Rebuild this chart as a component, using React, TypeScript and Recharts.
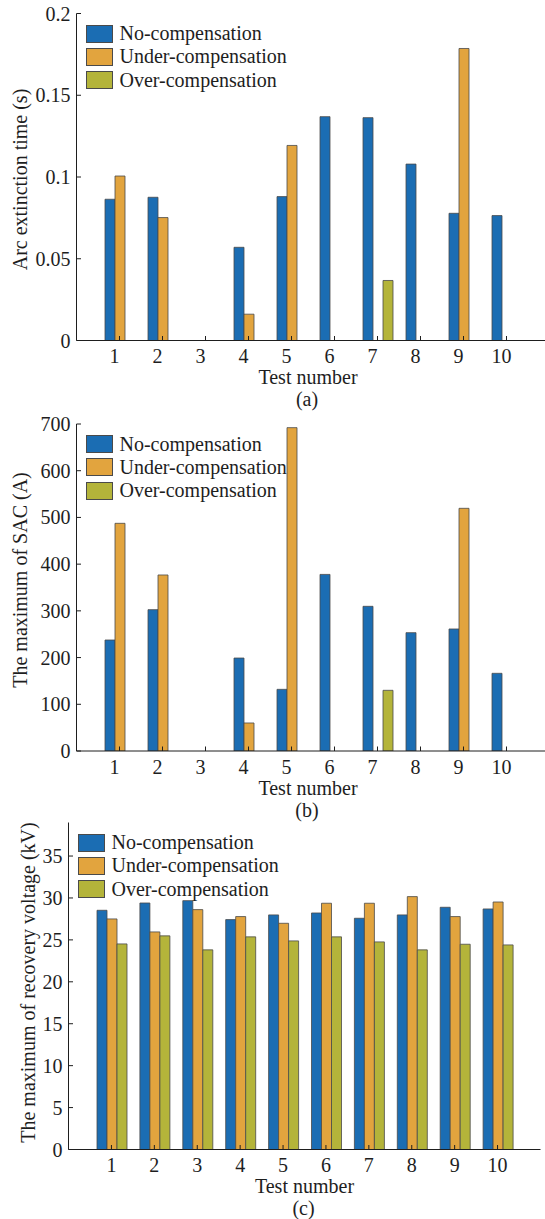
import React from "react";
import { BarChart, Bar, XAxis, YAxis, Label } from "recharts";

// test numbers on the x axis
const tests = ["1", "2", "3", "4", "5", "6", "7", "8", "9", "10"];

// (a) arc extinction time, s
const arcNo = [0.0864, 0.0876, 0, 0.057, 0.088, 0.1369, 0.1363, 0.1079, 0.0778, 0.0764];
const arcUnder = [0.1006, 0.0752, 0, 0.0161, 0.1193, 0, 0, 0, 0.1786, 0];
const arcOver = [0, 0, 0, 0, 0, 0, 0.0367, 0, 0, 0];
const arcTicks = [0, 0.05, 0.1, 0.15, 0.2];

// (b) maximum secondary arc current, A
const sacNo = [237.6, 302.6, 0, 199, 132, 378, 309.7, 253.3, 261.2, 166.3];
const sacUnder = [487.4, 376.8, 0, 60, 692.2, 0, 0, 0, 519.5, 0];
const sacOver = [0, 0, 0, 0, 0, 0, 129.9, 0, 0, 0];
const sacTicks = [0, 100, 200, 300, 400, 500, 600, 700];

// (c) maximum recovery voltage, kV
const rvNo = [28.53, 29.4, 29.68, 27.42, 27.98, 28.21, 27.58, 27.98, 28.89, 28.69];
const rvUnder = [27.5, 25.95, 28.61, 27.78, 26.98, 29.37, 29.37, 30.16, 27.78, 29.52];
const rvOver = [24.52, 25.48, 23.81, 25.36, 24.88, 25.36, 24.76, 23.81, 24.48, 24.4];
const rvTicks = [0, 5, 10, 15, 20, 25, 30, 35];

const seriesNames = ["No-compensation", "Under-compensation", "Over-compensation"];
const seriesKeys = ["no", "under", "over"];
const seriesColors = ["#1b6db3", "#e2a43e", "#b4b43a"];

const INK = "#1e1e1e";
const EDGE = "#4a4a4a";
const FONT = "'Liberation Serif', 'Times New Roman', serif";
const FS = 20;
const TICK = 4.5;
const CHART_W = 560;
const X_AXIS_H = 60;

type Row = { test: string; no: number; under: number; over: number };

const makeRows = (no: number[], under: number[], over: number[]): Row[] =>
  tests.map((t, i) => ({ test: t, no: no[i], under: under[i], over: over[i] }));

const txt = { fontFamily: FONT, fontSize: FS, fill: INK };

type PanelProps = {
  top: number;
  height: number;
  plotLeft: number;
  plotTop: number;
  plotWidth: number;
  plotHeight: number;
  rows: Row[];
  yMax: number;
  yTicks: number[];
  yLabel: string;
  yLabelX: number;
  yLabelDy: number;
  caption: string;
  shift: number;
};

function Panel(p: PanelProps) {
  const right = CHART_W - p.plotLeft - p.plotWidth;
  const bottom = p.height - p.plotTop - p.plotHeight - X_AXIS_H;
  const pad = { left: 21.5, right: 21.5 };

  return (
    <div style={{ position: "absolute", left: 0, top: p.top, width: CHART_W, height: p.height }}>
      <BarChart
        width={CHART_W}
        height={p.height}
        data={p.rows}
        margin={{ top: p.plotTop, left: 0, right, bottom }}
        barCategoryGap={7}
        barGap={0}
      >
        <XAxis
          dataKey="test"
          height={X_AXIS_H}
          padding={pad}
          tickSize={0}
          tickMargin={0}
          axisLine={{ stroke: INK, strokeWidth: 1 }}
          tickLine={false}
          interval={0}
          tick={(t: any) => (
            <g>
              <line x1={t.x} y1={t.y} x2={t.x} y2={t.y - TICK} stroke={INK} />
              <text x={t.x + p.shift} y={t.y + 15.5} textAnchor="middle" dominantBaseline="central" style={txt}>
                {t.payload.value}
              </text>
            </g>
          )}
        >
          <Label
            content={(l: any) => {
              const vb = l.viewBox;
              const cx = vb.x + vb.width / 2 + p.shift;
              return (
                <g>
                  <text x={cx} y={vb.y + 36.5} textAnchor="middle" dominantBaseline="central" style={txt}>
                    Test number
                  </text>
                  <text x={cx - 1} y={vb.y + 58.5} textAnchor="middle" dominantBaseline="central" style={txt}>
                    {p.caption}
                  </text>
                </g>
              );
            }}
          />
        </XAxis>
        <XAxis
          xAxisId="top"
          orientation="top"
          dataKey="test"
          height={0}
          padding={pad}
          tickSize={0}
          tickMargin={0}
          axisLine={{ stroke: INK, strokeWidth: 1 }}
          tickLine={false}
          interval={0}
          tick={(t: any) => <line x1={t.x} y1={t.y} x2={t.x} y2={t.y + TICK} stroke={INK} />}
        />
        <YAxis
          width={p.plotLeft}
          domain={[0, p.yMax]}
          ticks={p.yTicks}
          allowDataOverflow
          tickSize={0}
          tickMargin={0}
          axisLine={{ stroke: INK, strokeWidth: 1 }}
          tickLine={false}
          interval={0}
          tick={(t: any) => (
            <g>
              <line x1={t.x} y1={t.y} x2={t.x + TICK} y2={t.y} stroke={INK} />
              <text x={t.x - 6} y={t.y} textAnchor="end" dominantBaseline="central" style={txt}>
                {String(t.payload.value)}
              </text>
            </g>
          )}
        >
          <Label
            content={(l: any) => {
              const vb = l.viewBox;
              const cy = vb.y + vb.height / 2 + p.yLabelDy;
              return (
                <text
                  x={p.yLabelX}
                  y={cy}
                  transform={`rotate(-90 ${p.yLabelX} ${cy})`}
                  textAnchor="middle"
                  dominantBaseline="central"
                  style={txt}
                >
                  {p.yLabel}
                </text>
              );
            }}
          />
        </YAxis>
        <YAxis
          yAxisId="right"
          orientation="right"
          width={0}
          domain={[0, p.yMax]}
          ticks={p.yTicks}
          allowDataOverflow
          tickSize={0}
          tickMargin={0}
          axisLine={{ stroke: INK, strokeWidth: 1 }}
          tickLine={false}
          interval={0}
          tick={(t: any) => <line x1={t.x} y1={t.y} x2={t.x - TICK} y2={t.y} stroke={INK} />}
        />
        {seriesKeys.map((k, i) => (
          <Bar
            key={k}
            dataKey={k}
            name={seriesNames[i]}
            fill={seriesColors[i]}
            stroke={EDGE}
            strokeWidth={0.8}
            isAnimationActive={false}
          />
        ))}
      </BarChart>
      {/* legend, no frame */}
      <div
        style={{
          position: "absolute",
          left: p.plotLeft + 9,
          top: p.plotTop + 8.5,
          fontFamily: FONT,
          fontSize: FS,
          color: INK,
          lineHeight: "23.3px",
        }}
      >
        {seriesNames.map((n, i) => (
          <div key={n} style={{ display: "flex", alignItems: "center", height: 23.3, whiteSpace: "nowrap" }}>
            <span
              style={{
                display: "inline-block",
                width: 25,
                height: 16,
                background: seriesColors[i],
                border: `1px solid ${EDGE}`,
                marginRight: 7,
              }}
            />
            {n}
          </div>
        ))}
      </div>
    </div>
  );
}

export default function App() {
  return (
    <div
      style={{
        position: "absolute",
        left: 0,
        top: 0,
        width: 545,
        height: 1219,
        overflow: "hidden",
        background: "#fff",
      }}
    >
      <Panel
        top={0}
        height={420}
        plotLeft={76.5}
        plotTop={13.5}
        plotWidth={473}
        plotHeight={327}
        rows={makeRows(arcNo, arcUnder, arcOver)}
        yMax={0.2}
        yTicks={arcTicks}
        yLabel="Arc extinction time (s)"
        yLabelX={20}
        yLabelDy={2.5}
        caption="(a)"
        shift={-5}
      />
      <Panel
        top={405}
        height={425}
        plotLeft={76.5}
        plotTop={19}
        plotWidth={473}
        plotHeight={327}
        rows={makeRows(sacNo, sacUnder, sacOver)}
        yMax={700}
        yTicks={sacTicks}
        yLabel="The maximum of SAC (A)"
        yLabelX={20}
        yLabelDy={-7.5}
        caption="(b)"
        shift={-5}
      />
      <Panel
        top={815}
        height={404}
        plotLeft={68.5}
        plotTop={7.5}
        plotWidth={472}
        plotHeight={327}
        rows={makeRows(rvNo, rvUnder, rvOver)}
        yMax={39}
        yTicks={rvTicks}
        yLabel="The maximum of recovery voltage (kV)"
        yLabelX={27.5}
        yLabelDy={-3.5}
        caption="(c)"
        shift={0}
      />
    </div>
  );
}
